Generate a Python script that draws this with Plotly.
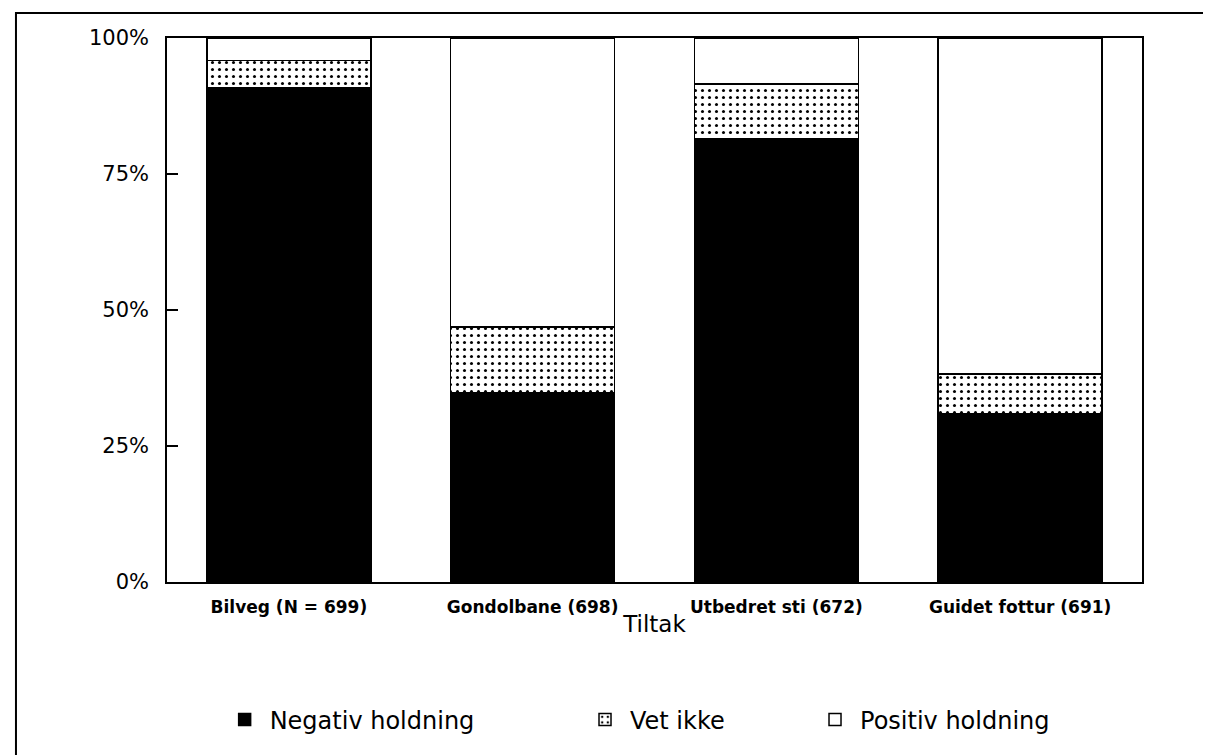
import plotly.graph_objects as go

categories = ["Bilveg (N = 699)", "Gondolbane (698)", "Utbedret sti (672)", "Guidet fottur (691)"]
negativ = [90.8, 34.8, 81.4, 31.0]
vet_ikke = [5.1, 12.1, 10.1, 7.2]
positiv = [4.1, 53.1, 8.5, 61.8]
y_ticks = [0, 25, 50, 75, 100]
y_ticktext = ["0%", "25%", "50%", "75%", "100%"]

FONT = "DejaVu Sans"
line = dict(color="black", width=1.5)

fig = go.Figure()
fig.add_trace(go.Bar(name="Negativ holdning", x=categories, y=negativ, legend="legend",
                     marker=dict(color="black", line=line)))
fig.add_trace(go.Bar(name="Vet ikke", x=categories, y=vet_ikke, legend="legend2",
                     marker=dict(color="white", line=line,
                                 pattern=dict(shape=".", fgcolor="black", bgcolor="white",
                                              size=7, solidity=0.15, fillmode="replace"))))
fig.add_trace(go.Bar(name="Positiv holdning", x=categories, y=positiv, legend="legend3",
                     marker=dict(color="white", line=line)))

leg_common = dict(orientation="h", xanchor="left", y=-0.2537, yanchor="middle",
                  font=dict(size=24, family=FONT), itemwidth=40,
                  bgcolor="rgba(0,0,0,0)", borderwidth=0)

fig.update_layout(
    barmode="stack",
    bargap=0.327,
    width=1203, height=747,
    margin=dict(l=159, r=69, t=30, b=173),
    paper_bgcolor="white", plot_bgcolor="white",
    font=dict(family=FONT, color="black"),
    showlegend=True,
    legend=dict(x=0.054, **leg_common),
    legend2=dict(x=0.4236, **leg_common),
    legend3=dict(x=0.6595, **leg_common),
    xaxis=dict(title=dict(text="Tiltak", font=dict(size=23), standoff=0),
               tickfont=dict(size=17, family=FONT, weight="bold"),
               ticklabelstandoff=9,
               showline=True, linecolor="black", linewidth=1.5, mirror=True,
               ticks="", showgrid=False, range=[-0.5, 3.5]),
    yaxis=dict(range=[0, 100], tickvals=y_ticks, ticktext=y_ticktext,
               tickfont=dict(size=21, family=FONT),
               ticks="inside", ticklen=11, tickwidth=1.5, tickcolor="black",
               ticklabelstandoff=12,
               showline=True, linecolor="black", linewidth=1.5, mirror=True,
               showgrid=False, zeroline=False),
    shapes=[dict(type="rect", xref="paper", yref="paper",
                 x0=-0.1549, y0=-0.6, x1=1.3, y1=1.046,
                 line=dict(color="black", width=2), fillcolor="rgba(0,0,0,0)", layer="below")],
)

fig.write_html("out.html")
